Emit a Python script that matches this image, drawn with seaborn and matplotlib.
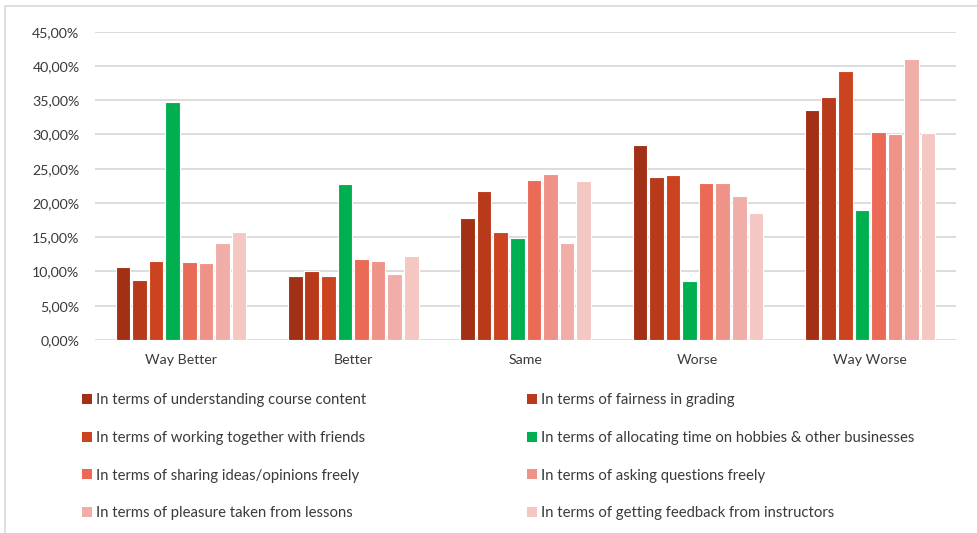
import matplotlib
matplotlib.use("Agg")
import matplotlib.pyplot as plt
from matplotlib.patches import Patch, Rectangle
from matplotlib.ticker import FuncFormatter, MultipleLocator
import numpy as np
import pandas as pd
import seaborn as sns

categories = ["Way Better", "Better", "Same", "Worse", "Way Worse"]

series_names = [
    "In terms of understanding course content",
    "In terms of fairness in grading",
    "In terms of working together with friends",
    "In terms of allocating time on hobbies & other businesses",
    "In terms of sharing ideas/opinions freely",
    "In terms of asking questions freely",
    "In terms of pleasure taken from lessons",
    "In terms of getting feedback from instructors",
]

understanding = [10.7, 9.3, 17.8, 28.5, 33.5]
fairness = [8.8, 10.1, 21.7, 23.8, 35.5]
working_together = [11.5, 9.3, 15.7, 24.1, 39.3]
hobbies = [34.7, 22.7, 14.9, 8.6, 19.0]
sharing_ideas = [11.4, 11.8, 23.4, 22.9, 30.4]
asking_questions = [11.2, 11.6, 24.2, 22.9, 30.0]
pleasure = [14.2, 9.6, 14.2, 21.0, 41.0]
feedback = [15.7, 12.2, 23.2, 18.5, 30.2]

series_values = [understanding, fairness, working_together, hobbies,
                 sharing_ideas, asking_questions, pleasure, feedback]

colors = ["#A23016", "#B93A1B", "#CC431F", "#00B050",
          "#EA6A55", "#EF9388", "#F1AEA9", "#F4C7C3"]

rows = []
for name, vals in zip(series_names, series_values):
    for cat, v in zip(categories, vals):
        rows.append({"category": cat, "series": name, "value": v})
df = pd.DataFrame(rows)

sns.set_theme(style="white")
plt.rcParams["font.family"] = ["Lato", "DejaVu Sans"]
text_color = "#3A3A3A"
grid_color = "#D9D9D9"

W, H = 977, 533
fig = plt.figure(figsize=(W / 100, H / 100), dpi=100)

# chart frame (light border along the top and left)
fig.patches.append(Rectangle((5 / W, -0.1), 1.2, 1 - 6 / H + 0.1,
                             transform=fig.transFigure, fill=False,
                             edgecolor=grid_color, linewidth=1.2))

ax = fig.add_axes([94.8 / W, 1 - 340 / H, (956.3 - 94.8) / W, (340 - 31.7) / H])

sns.barplot(data=df, x="category", y="value", hue="series",
            order=categories, hue_order=series_names, palette=colors,
            width=0.77, gap=0.12, edgecolor="white", linewidth=0.8,
            saturation=1, legend=False, ax=ax)

ax.set_ylim(0, 45)
ax.yaxis.set_major_locator(MultipleLocator(5))
ax.yaxis.set_major_formatter(FuncFormatter(lambda v, _: f"{v:.2f}%".replace(".", ",")))
ax.grid(axis="y", color=grid_color, linewidth=1.3)
ax.set_axisbelow(True)
for s in ax.spines.values():
    s.set_visible(False)
ax.set_xlabel("")
ax.set_ylabel("")
ax.tick_params(axis="both", length=0, labelsize=10.2, colors=text_color)
ax.tick_params(axis="y", pad=11)
ax.tick_params(axis="x", pad=10)

# legend laid out in two columns, row by row
handles = [Patch(facecolor=c, edgecolor="none") for c in colors]
col_x = [82 / W, 527 / W]
for ci in range(2):
    idx = [ci, ci + 2, ci + 4, ci + 6]
    leg = fig.legend([handles[i] for i in idx], [series_names[i] for i in idx],
                     loc="upper left", bbox_to_anchor=(col_x[ci], 1 - 393 / H),
                     frameon=False, fontsize=10.7, borderpad=0, borderaxespad=0,
                     handlelength=0.66, handleheight=0.66, handletextpad=0.3,
                     labelspacing=1.6, labelcolor=text_color)

fig.savefig("out.png", dpi=100, facecolor="white")
